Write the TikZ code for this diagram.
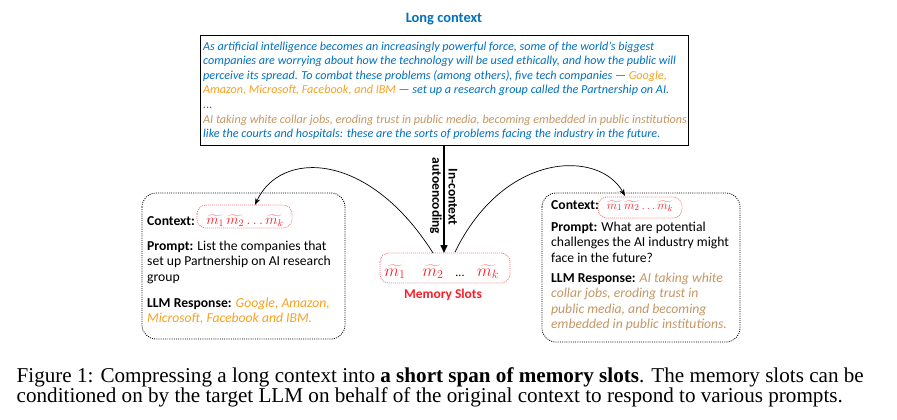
\documentclass[tikz,border=0pt]{standalone}
\usepackage{fontspec}
\setmainfont{Carlito}
\newfontfamily\capfont{Liberation Serif}
\usetikzlibrary{arrows.meta}
\definecolor{lcblue}{RGB}{0,112,192}
\definecolor{lcorange}{RGB}{250,160,30}
\definecolor{lctan}{RGB}{196,150,100}
\definecolor{slotred}{RGB}{250,30,40}
\definecolor{slotborder}{RGB}{255,120,120}
\tikzset{
  ctxline/.style={anchor=base west, inner sep=0pt, font=\fontsize{12.2}{14.6}\selectfont\itshape, text=lcblue},
  boxline/.style={anchor=base west, inner sep=0pt, font=\fontsize{13.7}{15.5}\selectfont},
  boxital/.style={boxline, font=\fontsize{13.7}{15.5}\selectfont\itshape},
  qbox/.style={draw=black, line width=0.8pt, dash pattern=on 1pt off 1.2pt, rounded corners=14pt},
  slotbox/.style={draw=slotborder, line width=0.8pt, dash pattern=on 1pt off 1pt, rounded corners=9pt},
  slotm/.style={text=slotred, font=\fontsize{18}{20}\selectfont, inner sep=0pt},
  curvearrow/.style={line width=0.7pt, -{Stealth[length=7pt,width=5pt]}},
  capline/.style={anchor=base west, inner sep=0pt, font=\capfont\fontsize{21.2}{23}\selectfont},
}
\begin{document}
\begin{tikzpicture}[x=1bp,y=-1bp]
\useasboundingbox (0,0) rectangle (897,419);
% title and long context
\node[font=\fontsize{14.5}{16}\selectfont\bfseries, text=lcblue] (title) at (444,19) {Long context};
\draw[line width=0.9pt] (200,35) rectangle (688,145);
\coordinate (ctxbottom) at (444,145);
\node[ctxline] (c1) at (203,50) {As artificial intelligence becomes an increasingly powerful force, some of the world’s biggest};
\node[ctxline] (c2) at (203,64.6) {companies are worrying about how the technology will be used ethically, and how the public will};
\node[ctxline] (c3) at (203,79.2) {perceive its spread. To combat these problems (among others), five tech companies — \textcolor{lcorange}{Google,}};
\node[ctxline] (c4) at (203,93.8) {\textcolor{lcorange}{Amazon, Microsoft, Facebook, and IBM} — set up a research group called the Partnership on AI.};
\node[ctxline] (c5) at (203,108.4) {...};
\node[ctxline, text=lctan] (c6) at (203,123) {AI taking white collar jobs, eroding trust in public media, becoming embedded in public institutions};
\node[ctxline] (c7) at (203,137.6) {like the courts and hospitals: these are the sorts of problems facing the industry in the future.};
% memory slots
\draw[slotbox] (380,253) rectangle (510,283);
\coordinate (memtop) at (444,253);
\coordinate (memleft) at (433,253);
\coordinate (memright) at (455,252);
\node[slotm, anchor=base] (s1) at (395,276) {$\widetilde{m_1}$};
\node[slotm, anchor=base] (s2) at (433,276) {$\widetilde{m_2}$};
\node[font=\fontsize{12}{14}\selectfont, anchor=base] (s3) at (460,276) {...};
\node[slotm, anchor=base] (s4) at (488,276) {$\widetilde{m_k}$};
\node[text=slotred, font=\fontsize{13.5}{15}\selectfont\bfseries] (memlabel) at (443,295) {Memory Slots};
% encoding arrow
\draw[line width=1.5pt, -{Triangle[length=8pt,width=7pt]}] (ctxbottom) -- (memtop);
\node[rotate=-90, font=\fontsize{13.5}{15}\selectfont\bfseries] (lab1) at (453,197) {In-context};
\node[rotate=-90, font=\fontsize{13.5}{15}\selectfont\bfseries] (lab2) at (436,196) {autoencoding};
% left box
\draw[qbox] (142,193) rectangle (345,339);
\draw[slotbox] (197,205) rectangle (292,228);
\coordinate (lslot) at (255,205);
\node[boxline] (lctx) at (147,225) {\textbf{Context:}};
\node[text=slotred, font=\fontsize{14.5}{17}\selectfont, anchor=base, inner sep=0pt] (lm) at (245,224) {$\widetilde{m_1}\,\widetilde{m_2}\ldots\widetilde{m_k}$};
\node[boxline] (lp1) at (147,250) {\textbf{Prompt:} List the companies that};
\node[boxline] (lp2) at (147,265.5) {set up Partnership on AI research};
\node[boxline] (lp3) at (147,281) {group};
\node[boxline] (lr1) at (147,307) {\textbf{LLM Response:} \textcolor{lcorange}{\itshape Google, Amazon,}};
\node[boxital, text=lcorange] (lr2) at (147,322.5) {Microsoft, Facebook and IBM.};
% right box
\draw[qbox] (542,193) rectangle (740,342);
\draw[slotbox] (598,197) rectangle (682,218);
\coordinate (rslot) at (625,196);
\node[boxline] (rctx) at (551,209) {\textbf{Context:}};
\node[text=slotred, font=\fontsize{13}{16}\selectfont, anchor=base, inner sep=0pt] (rm) at (640,209) {$\widetilde{m_1}\,\widetilde{m_2}\ldots\widetilde{m_k}$};
\node[boxline] (rp1) at (551,231) {\textbf{Prompt:} What are potential};
\node[boxline] (rp2) at (551,246.5) {challenges the AI industry might};
\node[boxline] (rp3) at (551,262) {face in the future?};
\node[boxline] (rr1) at (551,282) {\textbf{LLM Response:} \textcolor{lctan}{\itshape AI taking white}};
\node[boxital, text=lctan] (rr2) at (551,297.5) {collar jobs, eroding trust in};
\node[boxital, text=lctan] (rr3) at (551,313) {public media, and becoming};
\node[boxital, text=lctan] (rr4) at (551,328.5) {embedded in public institutions.};
% curved arrows
\draw[curvearrow] (memleft) .. controls (368,150) and (280,150) .. (lslot);
\draw[curvearrow] (memright) .. controls (505,150) and (600,150) .. (rslot);
% caption
\node[capline] (cap1) at (16.5,382) {Figure 1: Compressing a long context into \textbf{a short span of memory slots}. The memory slots can be};
\node[capline] (cap2) at (16.5,402) {conditioned on by the target LLM on behalf of the original context to respond to various prompts.};
\end{tikzpicture}
\end{document}
